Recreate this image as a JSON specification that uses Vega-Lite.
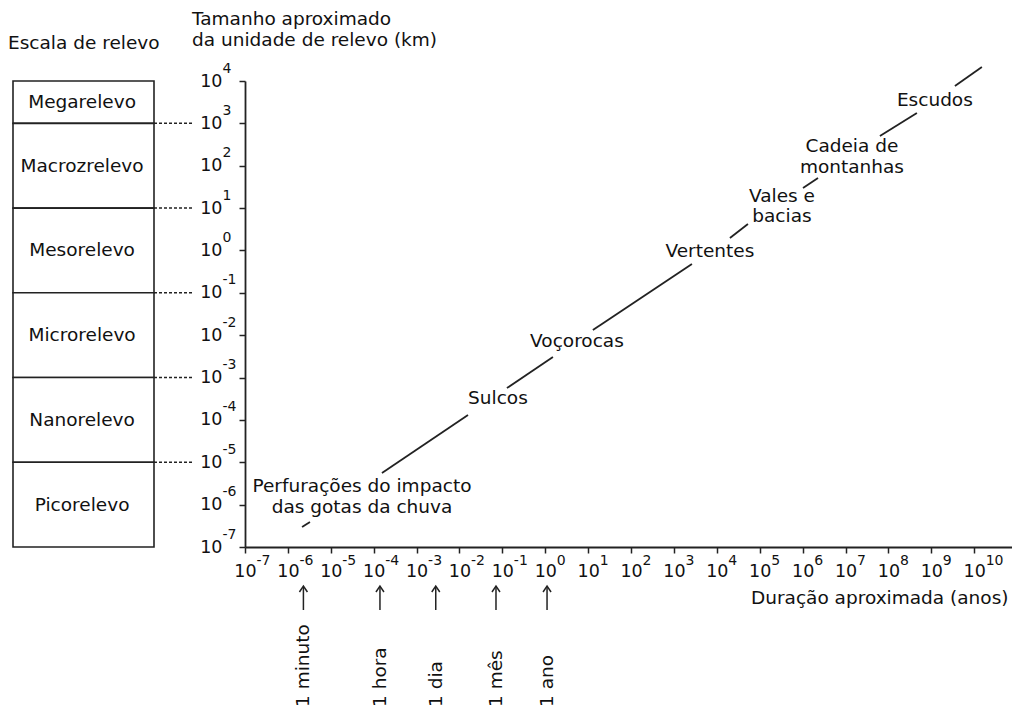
{
  "$schema": "https://vega.github.io/schema/vega-lite/v6.json",
  "background": "white",
  "padding": {"left": 8, "top": 9, "right": 0, "bottom": 0},
  "bounds": "flush",
  "spacing": 91,
  "config": {
    "view": {"stroke": null},
    "font": "DejaVu Sans",
    "title": {"fontSize": 18.5, "fontWeight": "normal", "color": "#111", "font": "DejaVu Sans", "baseline": "alphabetic"}
  },
  "datasets": {
    "escalas": [
      {"escala": "Megarelevo", "topo": 1e4, "base": 1e3, "meio": 3162},
      {"escala": "Macrozrelevo", "topo": 1e3, "base": 1e1, "meio": 100},
      {"escala": "Mesorelevo", "topo": 1e1, "base": 1e-1, "meio": 1},
      {"escala": "Microrelevo", "topo": 1e-1, "base": 1e-3, "meio": 0.01},
      {"escala": "Nanorelevo", "topo": 1e-3, "base": 1e-5, "meio": 1e-4},
      {"escala": "Picorelevo", "topo": 1e-5, "base": 1e-7, "meio": 1e-6}
    ],
    "segmentos": [
      {"x0": 2.14e-6, "y0": 2.95e-7, "x1": 3.27e-6, "y1": 3.89e-7},
      {"x0": 1.56e-4, "y0": 5.57e-6, "x1": 0.0158, "y1": 1.30e-4},
      {"x0": 0.128, "y0": 5.66e-4, "x1": 1.51, "y1": 3.05e-3},
      {"x0": 12.9, "y0": 0.0132, "x1": 2630, "y1": 0.479},
      {"x0": 2.02e4, "y0": 1.97, "x1": 5.31e4, "y1": 4.21},
      {"x0": 1.02e6, "y0": 29.8, "x1": 2.28e6, "y1": 51.3},
      {"x0": 6.34e7, "y0": 504, "x1": 4.61e8, "y1": 1758},
      {"x0": 3.55e9, "y0": 7621, "x1": 1.51e10, "y1": 2.14e4}
    ],
    "formas": [
      {"forma": "Perfurações do impacto\ndas gotas da chuva", "duracao": 5.33e-5, "tamanho": 2.75e-6},
      {"forma": "Sulcos", "duracao": 0.0789, "tamanho": 3.29e-4},
      {"forma": "Voçorocas", "duracao": 5.48, "tamanho": 7.28e-3},
      {"forma": "Vertentes", "duracao": 6902, "tamanho": 0.971},
      {"forma": "Vales e\nbacias", "duracao": 3.29e5, "tamanho": 19.3},
      {"forma": "Cadeia de\nmontanhas", "duracao": 1.41e7, "tamanho": 292},
      {"forma": "Escudos", "duracao": 1.21e9, "tamanho": 3556}
    ],
    "marcos": [
      {"marco": "1 minuto", "anos": 2.3e-6},
      {"marco": "1 hora", "anos": 1.4e-4},
      {"marco": "1 dia", "anos": 2.8e-3},
      {"marco": "1 mês", "anos": 0.071},
      {"marco": "1 ano", "anos": 1.1}
    ]
  },
  "hconcat": [
    {
      "width": 141,
      "height": 466,
      "title": {"text": "Escala de relevo", "anchor": "start", "frame": "group", "dx": -5, "offset": 28},
      "data": {"name": "escalas"},
      "layer": [
        {
          "mark": {"type": "rect", "fill": "white", "stroke": "#222", "strokeWidth": 1.6},
          "encoding": {
            "x": {"datum": 0, "type": "quantitative", "scale": {"domain": [0, 1], "nice": false, "zero": false}, "axis": null},
            "x2": {"datum": 1},
            "y": {"field": "topo", "type": "quantitative", "scale": {"type": "log", "domain": [1e-7, 1e4], "nice": false}, "axis": null},
            "y2": {"field": "base"}
          }
        },
        {
          "mark": {"type": "text", "fontSize": 18.5, "color": "#111", "align": "center", "baseline": "middle"},
          "encoding": {
            "x": {"datum": 0.49, "type": "quantitative"},
            "y": {"field": "meio", "type": "quantitative"},
            "text": {"field": "escala"}
          }
        },
        {
          "transform": [{"filter": "datum.base > 1e-7"}],
          "mark": {"type": "rule", "strokeDash": [3, 2], "stroke": "#222", "strokeWidth": 1.5},
          "encoding": {
            "x": {"datum": 1, "type": "quantitative"},
            "x2": {"datum": 1.28},
            "y": {"field": "base", "type": "quantitative"}
          }
        }
      ]
    },
    {
      "width": 767,
      "height": 466,
      "title": {"text": ["Tamanho aproximado", "da unidade de relevo (km)"], "anchor": "start", "frame": "group", "dx": -53, "lineHeight": 21, "offset": 12},
      "resolve": {"axis": {"x": "independent", "y": "independent"}},
      "layer": [
        {
          "data": {"name": "segmentos"},
          "mark": {"type": "rule", "stroke": "#222", "strokeWidth": 1.8},
          "encoding": {
            "x": {
              "field": "x0", "type": "quantitative",
              "scale": {"type": "log", "domain": [1e-7, 7.6e10], "nice": false},
              "axis": {
                "orient": "bottom",
                "values": [1e-7, 1e-6, 1e-5, 1e-4, 1e-3, 1e-2, 1e-1, 1, 10, 100, 1e3, 1e4, 1e5, 1e6, 1e7, 1e8, 1e9, 1e10],
                "labelExpr": "'10'",
                "labelFontSize": 17.5, "labelColor": "#111", "labelAlign": "center",
                "labelPadding": 9, "labelBaseline": "top", "labelFlush": false, "labelOverlap": false, "labelBound": false,
                "tickSize": 6, "tickColor": "#222", "tickWidth": 1.5,
                "domainColor": "#222", "domainWidth": 1.8, "grid": false,
                "title": "Duração aproximada (anos)", "titleFontSize": 18.5, "titleFontWeight": "normal",
                "titleColor": "#111", "titleAnchor": "end", "titleAlign": "right", "titleX": 763, "titlePadding": 9
              }
            },
            "x2": {"field": "x1"},
            "y": {
              "field": "y0", "type": "quantitative",
              "scale": {"type": "log", "domain": [1e-7, 1e4], "nice": false},
              "axis": {
                "orient": "left",
                "values": [1e-7, 1e-6, 1e-5, 1e-4, 1e-3, 1e-2, 1e-1, 1, 10, 100, 1e3, 1e4],
                "labelExpr": "'10'",
                "labelFontSize": 17.5, "labelColor": "#111", "labelPadding": 17, "labelAlign": "right", "labelBaseline": "middle",
                "labelFlush": false, "labelOverlap": false, "labelBound": false,
                "tickSize": 6, "tickColor": "#222", "tickWidth": 1.5,
                "domainColor": "#222", "domainWidth": 1.8, "grid": false, "title": null
              }
            },
            "y2": {"field": "y1"}
          }
        },
        {
          "data": {"name": "formas"},
          "mark": {"type": "text", "fontSize": 18.5, "lineBreak": "\n", "lineHeight": 20.5, "align": "center", "baseline": "middle", "color": "#111"},
          "encoding": {
            "x": {
              "field": "duracao", "type": "quantitative",
              "axis": {
                "orient": "bottom",
                "values": [1e-7, 1e-6, 1e-5, 1e-4, 1e-3, 1e-2, 1e-1, 1, 10, 100, 1e3, 1e4, 1e5, 1e6, 1e7, 1e8, 1e9, 1e10],
                "labelExpr": "'' + round(log(datum.value)/LN10)",
                "labelFontSize": 14, "labelColor": "#111", "labelAlign": "left", "labelOffset": 11,
                "labelPadding": 6, "labelBaseline": "top", "labelFlush": false, "labelOverlap": false, "labelBound": false,
                "ticks": false, "tickSize": 0, "domain": false, "grid": false, "title": null
              }
            },
            "y": {
              "field": "tamanho", "type": "quantitative",
              "axis": {
                "orient": "left",
                "values": [1e-7, 1e-6, 1e-5, 1e-4, 1e-3, 1e-2, 1e-1, 1, 10, 100, 1e3, 1e4],
                "labelExpr": "'' + round(log(datum.value)/LN10)",
                "labelFontSize": 14, "labelColor": "#111", "labelAlign": "left", "labelBaseline": "middle", "labelOffset": -13,
                "labelPadding": 23, "labelFlush": false, "labelOverlap": false, "labelBound": false,
                "ticks": false, "tickSize": 0, "domain": false, "grid": false, "title": null
              }
            },
            "text": {"field": "forma"}
          }
        },
        {
          "data": {"name": "marcos"},
          "mark": {"type": "rule", "stroke": "#222", "strokeWidth": 1.5, "yOffset": 40, "y2Offset": 63},
          "encoding": {
            "x": {"field": "anos", "type": "quantitative", "axis": null},
            "y": {"datum": 1e-7, "type": "quantitative", "axis": null},
            "y2": {"datum": 1e-7}
          }
        },
        {
          "data": {"name": "marcos"},
          "mark": {"type": "point", "shape": "M-1,1.5L0,0L1,1.5", "size": 64, "filled": false, "stroke": "#222", "strokeWidth": 1.5, "opacity": 1, "yOffset": 39},
          "encoding": {
            "x": {"field": "anos", "type": "quantitative", "axis": null},
            "y": {"datum": 1e-7, "type": "quantitative", "axis": null}
          }
        },
        {
          "data": {"name": "marcos"},
          "mark": {"type": "text", "angle": 270, "align": "left", "baseline": "middle", "fontSize": 18.5, "color": "#111", "yOffset": 160},
          "encoding": {
            "x": {"field": "anos", "type": "quantitative", "axis": null},
            "y": {"datum": 1e-7, "type": "quantitative", "axis": null},
            "text": {"field": "marco"}
          }
        }
      ]
    }
  ]
}
